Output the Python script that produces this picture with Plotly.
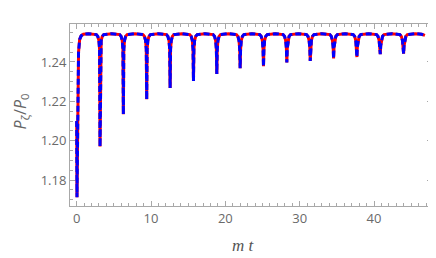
import plotly.graph_objects as go

# time samples (m t) and P_zeta/P_0 values
t_vals = [
    0.00, 0.04, 0.12, 0.25, 0.40, 0.60, 0.90, 1.57,
    2.64, 2.84, 2.99, 3.08, 3.14, 3.20, 3.29, 3.44, 3.64, 4.71,
    5.78, 5.98, 6.13, 6.22, 6.28, 6.34, 6.43, 6.58, 6.78, 7.85,
    8.92, 9.12, 9.27, 9.36, 9.42, 9.48, 9.57, 9.72, 9.92, 11.00,
    12.07, 12.27, 12.42, 12.51, 12.57, 12.63, 12.72, 12.87, 13.07, 14.14,
    15.21, 15.41, 15.56, 15.65, 15.71, 15.77, 15.86, 16.01, 16.21, 17.28,
    18.35, 18.55, 18.70, 18.79, 18.85, 18.91, 19.00, 19.15, 19.35, 20.42,
    21.49, 21.69, 21.84, 21.93, 21.99, 22.05, 22.14, 22.29, 22.49, 23.56,
    24.63, 24.83, 24.98, 25.07, 25.13, 25.19, 25.28, 25.43, 25.63, 26.70,
    27.77, 27.97, 28.12, 28.21, 28.27, 28.33, 28.42, 28.57, 28.77, 29.85,
    30.92, 31.12, 31.27, 31.36, 31.42, 31.48, 31.57, 31.72, 31.92, 32.99,
    34.06, 34.26, 34.41, 34.50, 34.56, 34.62, 34.71, 34.86, 35.06, 36.13,
    37.20, 37.40, 37.55, 37.64, 37.70, 37.76, 37.85, 38.00, 38.20, 39.27,
    40.34, 40.54, 40.69, 40.78, 40.84, 40.90, 40.99, 41.14, 41.34, 42.41,
    43.48, 43.68, 43.83, 43.92, 43.98, 44.04, 44.13, 44.28, 44.48, 45.55,
    46.40, 46.85,
]
p_vals = [
    1.2100, 1.1712, 1.2000, 1.2450, 1.2515, 1.2533, 1.2541, 1.2544,
    1.2539, 1.2530, 1.2508, 1.2465, 1.1970, 1.2465, 1.2508, 1.2530, 1.2539, 1.2544,
    1.2539, 1.2530, 1.2508, 1.2465, 1.2134, 1.2465, 1.2508, 1.2530, 1.2539, 1.2544,
    1.2539, 1.2530, 1.2508, 1.2465, 1.2210, 1.2465, 1.2508, 1.2530, 1.2539, 1.2544,
    1.2539, 1.2530, 1.2508, 1.2465, 1.2268, 1.2465, 1.2508, 1.2530, 1.2539, 1.2544,
    1.2539, 1.2530, 1.2508, 1.2465, 1.2303, 1.2465, 1.2508, 1.2530, 1.2539, 1.2544,
    1.2539, 1.2530, 1.2508, 1.2465, 1.2339, 1.2465, 1.2508, 1.2530, 1.2539, 1.2544,
    1.2539, 1.2530, 1.2508, 1.2465, 1.2368, 1.2465, 1.2508, 1.2530, 1.2539, 1.2544,
    1.2539, 1.2530, 1.2508, 1.2465, 1.2378, 1.2465, 1.2508, 1.2530, 1.2539, 1.2544,
    1.2539, 1.2530, 1.2508, 1.2470, 1.2398, 1.2470, 1.2508, 1.2530, 1.2539, 1.2544,
    1.2539, 1.2530, 1.2508, 1.2472, 1.2405, 1.2472, 1.2508, 1.2530, 1.2539, 1.2544,
    1.2539, 1.2530, 1.2508, 1.2475, 1.2418, 1.2475, 1.2508, 1.2530, 1.2539, 1.2544,
    1.2539, 1.2530, 1.2508, 1.2478, 1.2425, 1.2478, 1.2508, 1.2530, 1.2539, 1.2544,
    1.2539, 1.2530, 1.2508, 1.2482, 1.2440, 1.2482, 1.2508, 1.2530, 1.2539, 1.2544,
    1.2539, 1.2530, 1.2508, 1.2482, 1.2442, 1.2482, 1.2508, 1.2530, 1.2539, 1.2544,
    1.2541, 1.2535,
]

x_tick_vals = [0, 10, 20, 30, 40]
y_tick_vals = [1.18, 1.20, 1.22, 1.24]
y_tick_text = ["1.18", "1.20", "1.22", "1.24"]

fig = go.Figure()
fig.add_trace(go.Scatter(x=t_vals, y=p_vals, mode="lines",
                         line=dict(color="#ff0000", width=3), showlegend=False))
fig.add_trace(go.Scatter(x=t_vals, y=p_vals, mode="lines",
                         line=dict(color="#0000ff", width=3, dash="6px,3px"),
                         showlegend=False))

frame = "#a8a8a8"
tickfont = dict(family="Open Sans, sans-serif", size=13, color="#6a6a6a")
fig.update_layout(
    width=428, height=250,
    margin=dict(l=62, r=4, t=16, b=52),
    paper_bgcolor="white", plot_bgcolor="white",
    xaxis=dict(range=[-0.9, 47.8], tickvals=x_tick_vals, ticks="inside",
               ticklen=5, tickcolor=frame, showline=True, linecolor=frame,
               linewidth=1, mirror="ticks", showgrid=False, zeroline=False,
               tickfont=tickfont, automargin=False,
               minor=dict(dtick=1, tick0=0, ticks="inside", ticklen=3,
                          tickcolor=frame, showgrid=False)),
    yaxis=dict(range=[1.1668, 1.2593], tickvals=y_tick_vals, ticktext=y_tick_text,
               ticks="inside", ticklen=5, tickcolor=frame, showline=True,
               linecolor=frame, linewidth=1, mirror="ticks", showgrid=False,
               zeroline=False, tickfont=tickfont, automargin=False,
               minor=dict(dtick=0.005, tick0=1.18, ticks="inside", ticklen=3,
                          tickcolor=frame, showgrid=False)),
    annotations=[
        dict(text="<i>m t</i>", xref="paper", yref="paper", x=0.478, y=-0.215,
             xanchor="center", yanchor="middle", showarrow=False,
             font=dict(family="Liberation Serif, serif", size=17, color="#555555")),
        dict(text="<i>P</i><sub>ζ</sub>/<i>P</i><sub>0</sub>", xref="paper", yref="paper",
             x=-0.138, y=0.52, xanchor="center", yanchor="middle", showarrow=False,
             textangle=-90,
             font=dict(family="Open Sans, sans-serif", size=16, color="#666666")),
    ],
)
fig.write_html("out.html")
